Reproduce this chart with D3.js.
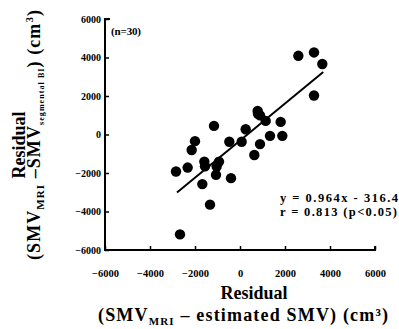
<!DOCTYPE html>
<html>
<head>
<meta charset="utf-8">
<script src="https://cdn.jsdelivr.net/npm/d3@7"></script>
<style>
 body{margin:0;background:#fff;}
 text{font-family:"Liberation Serif","Times New Roman",serif;font-weight:bold;fill:#000;}
</style>
</head>
<body>
<div id="vis"></div>
<script>
// residual (SMV_MRI - estimated SMV) vs residual (SMV_MRI - SMV_segmental BI), cm3
var resEst = [2593,3289,3659,3289,785,889,1141,1807,252,-1156,1333,1881,-2000,-2148,-474,74,889,637,-1585,-933,-2326,-2844,-1037,-1067,-400,-1674,-1333,-2667,-1556,800];
var resBI  = [4088,4263,3660,2026,1220,995,706,655,275,448,-69,-69,-345,-807,-378,-378,-498,-1065,-1409,-1409,-1718,-1924,-1667,-2096,-2268,-2577,-3643,-5190,-1650,1080];
var ticks = [-6000,-4000,-2000,0,2000,4000,6000];
var slope = 0.964, icpt = -316.4;
var fitRange = [-2800,3700];

var W=399,H=329;
var svg=d3.select("#vis").append("svg").attr("width",W).attr("height",H);

var x=d3.scaleLinear().domain([-6000,6000]).range([105,375]);
var y=d3.scaleLinear().domain([-6000,6000]).range([250,19]);

// axes (ticks inside)
svg.append("g").attr("transform","translate(0,250)")
  .call(d3.axisBottom(x).tickValues(ticks).tickSize(-4).tickFormat(d3.format("d")))
  .call(function(g){
    g.select(".domain").attr("stroke-width",2).attr("d","M105,-4V0H375V-4");
    g.selectAll(".tick line").attr("stroke-width",1.5);
    g.selectAll(".tick text").attr("font-size","10.5px").attr("y",27).attr("dy",0);
  });
svg.append("g").attr("transform","translate(105,0)")
  .call(d3.axisLeft(y).tickValues(ticks).tickSize(-4).tickPadding(4).tickFormat(d3.format("d")))
  .call(function(g){
    g.select(".domain").attr("stroke-width",2).attr("d","M5,19H0V250");
    g.selectAll(".tick line").attr("stroke-width",1.5);
    g.selectAll(".tick text").attr("font-size","10px");
  });

// points
svg.append("g").selectAll("circle")
  .data(resEst.map(function(d,i){return {x:d,y:resBI[i]};}))
  .enter().append("circle")
  .attr("cx",function(d){return x(d.x);})
  .attr("cy",function(d){return y(d.y);})
  .attr("r",5.2).attr("fill","#000");

// regression line
svg.append("line")
  .attr("x1",x(fitRange[0])).attr("y1",y(slope*fitRange[0]+icpt))
  .attr("x2",x(fitRange[1])).attr("y2",y(slope*fitRange[1]+icpt))
  .attr("stroke","#000").attr("stroke-width",2);

svg.append("text").attr("x",111).attr("y",35).attr("font-size","11px").attr("textLength",30).text("(n=30)");
svg.append("text").attr("x",280).attr("y",202).attr("font-size","12.5px").attr("textLength",118).text("y = 0.964x - 316.4");
svg.append("text").attr("x",280).attr("y",216).attr("font-size","12.5px").attr("textLength",117).text("r = 0.813 (p<0.05)");

// x label
svg.append("text").attr("x",254).attr("y",299).attr("text-anchor","middle").attr("font-size","18px").text("Residual");
var xl=svg.append("text").attr("x",98).attr("y",321).attr("font-size","18px").attr("textLength",290);
xl.append("tspan").text("(SMV");
xl.append("tspan").attr("font-size","11px").attr("dy",4).text("MRI");
xl.append("tspan").attr("dy",-4).text(" \u2013 estimated SMV) (cm\u00b3)");

// y label
svg.append("text").attr("transform","translate(25,145) rotate(-90)").attr("text-anchor","middle").attr("font-size","18px").text("Residual");
var yl=svg.append("text").attr("transform","translate(40,260) rotate(-90)").attr("font-size","18px").attr("textLength",250);
yl.append("tspan").text("(SMV");
yl.append("tspan").attr("font-size","11px").attr("dy",4).text("MRI");
yl.append("tspan").attr("dy",-4).text(" \u2013SMV");
yl.append("tspan").attr("font-size","8px").attr("dy",4).text("segmental BI");
yl.append("tspan").attr("dy",-4).text(") (cm");
yl.append("tspan").attr("font-size","11px").attr("dy",-7).text("3");
yl.append("tspan").attr("dy",7).text(")");
</script>
</body>
</html>
